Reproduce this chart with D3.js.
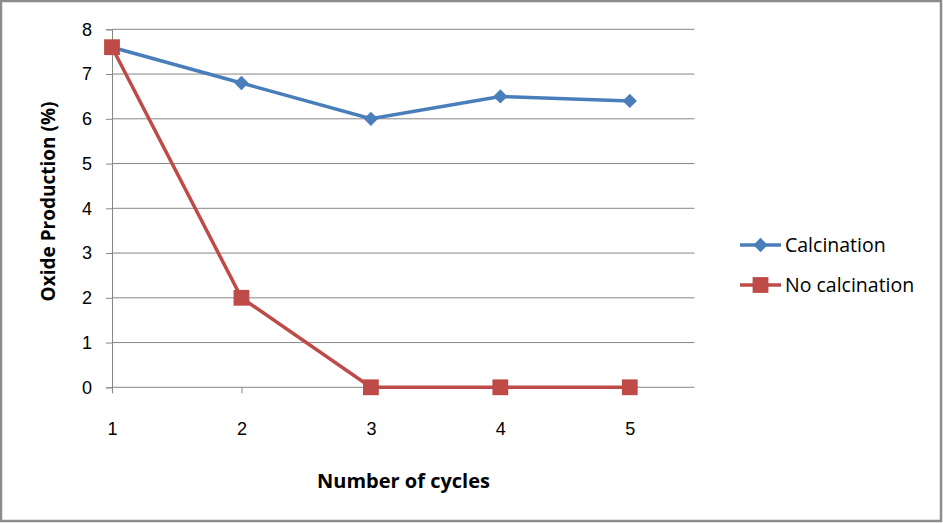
<!DOCTYPE html>
<html>
<head>
<meta charset="utf-8">
<script src="https://cdn.jsdelivr.net/npm/d3@7"></script>
<style>
  body { margin: 0; background: #fff; }
  svg { display: block; font-family: "Open Sans", "Noto Sans", sans-serif; }
</style>
</head>
<body>
<svg id="chart" width="943" height="523"></svg>
<script>
// data
var cycles = [1, 2, 3, 4, 5];
var calcination = [7.6, 6.8, 6.0, 6.5, 6.4];
var noCalcination = [7.6, 2.0, 0, 0, 0];
var yTicks = [0, 1, 2, 3, 4, 5, 6, 7, 8];
var seriesNames = ["Calcination", "No calcination"];

var svg = d3.select("#chart");

// outer frame
svg.append("rect")
    .attr("x", 1).attr("y", 1)
    .attr("width", 940).attr("height", 520)
    .style("fill", "#fff")
    .style("stroke", "#8c8c8c")
    .style("stroke-width", 2.5);

// plot box (note: "top" is a reserved window global, so prefixed names)
var pLeft = 112, pRight = 694.5, pTop = 29.3, pBottom = 387.3;

var x = d3.scaleLinear().domain([1, 5.5]).range([pLeft, pRight]);
var y = d3.scaleLinear().domain([0, 8]).range([pBottom, pTop]);

// horizontal gridlines
svg.append("g").selectAll("line")
    .data(yTicks.filter(function(d){ return d > 0; }))
    .enter().append("line")
    .attr("x1", pLeft).attr("x2", pRight)
    .attr("y1", function(d){ return y(d); })
    .attr("y2", function(d){ return y(d); })
    .style("stroke", "#868686")
    .style("stroke-width", 1);

// y axis
var yAxis = svg.append("g")
    .attr("transform", "translate(" + pLeft + ",0)")
    .call(d3.axisLeft(y).tickValues(yTicks).tickSize(6).tickPadding(14).tickFormat(d3.format("d")));
yAxis.select(".domain").style("stroke", "#868686");
yAxis.selectAll(".tick line").style("stroke", "#868686");
yAxis.selectAll("text").style("font-size", "18px").style("fill", "#000");

// x axis
var xAxis = svg.append("g")
    .attr("transform", "translate(0," + pBottom + ")")
    .call(d3.axisBottom(x).tickValues(cycles).tickSize(6).tickPadding(29).tickFormat(d3.format("d")));
xAxis.select(".domain").attr("d", "M" + pLeft + ",0H" + pRight).style("stroke", "#868686");
xAxis.selectAll(".tick line").style("stroke", "#868686");
xAxis.selectAll("text").style("font-size", "18px").style("fill", "#000");

// axis titles
svg.append("text")
    .attr("x", 403.5).attr("y", 488)
    .attr("text-anchor", "middle")
    .style("font-size", "20px").style("font-weight", "bold")
    .text("Number of cycles");

svg.append("text")
    .attr("transform", "translate(55,201.5) rotate(-90)")
    .attr("text-anchor", "middle")
    .style("font-size", "19px").style("font-weight", "bold")
    .text("Oxide Production (%)");

var line = d3.line()
    .x(function(d, i){ return x(cycles[i]); })
    .y(function(d){ return y(d); });

var blue = "#4a7ebb", red = "#be4b48";
var diamond = d3.symbol().type(d3.symbolDiamond2).size(130);
var square = d3.symbol().type(d3.symbolSquare).size(250);

// Calcination series
svg.append("path").datum(calcination)
    .attr("d", line)
    .style("fill", "none").style("stroke", blue).style("stroke-width", 3.5);
svg.append("g").selectAll("path")
    .data(calcination).enter().append("path")
    .attr("d", diamond)
    .attr("transform", function(d, i){ return "translate(" + x(cycles[i]) + "," + y(d) + ")"; })
    .style("fill", blue);

// No calcination series
svg.append("path").datum(noCalcination)
    .attr("d", line)
    .style("fill", "none").style("stroke", red).style("stroke-width", 3.5);
svg.append("g").selectAll("path")
    .data(noCalcination).enter().append("path")
    .attr("d", square)
    .attr("transform", function(d, i){ return "translate(" + x(cycles[i]) + "," + y(d) + ")"; })
    .style("fill", red);

// legend
var legend = svg.append("g");
var legendRows = [
    {name: seriesNames[0], color: blue, sym: diamond, yy: 245},
    {name: seriesNames[1], color: red, sym: square, yy: 285}
];
legendRows.forEach(function(r){
    legend.append("line")
        .attr("x1", 740).attr("x2", 781)
        .attr("y1", r.yy).attr("y2", r.yy)
        .style("stroke", r.color).style("stroke-width", 3.5);
    legend.append("path")
        .attr("d", r.sym)
        .attr("transform", "translate(760.5," + r.yy + ")")
        .style("fill", r.color);
    legend.append("text")
        .attr("x", 785).attr("y", r.yy + 6.5)
        .style("font-size", "19.5px")
        .text(r.name);
});
</script>
</body>
</html>
